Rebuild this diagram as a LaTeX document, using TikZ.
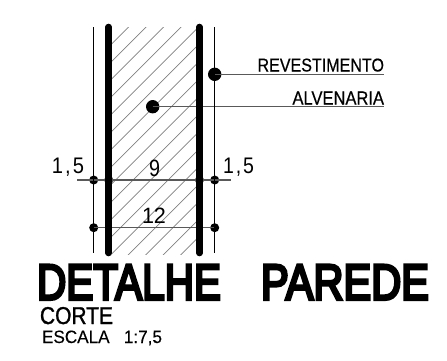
\documentclass[tikz,border=0pt]{standalone}
\usepackage{fontspec}
\setmainfont{Liberation Sans}
\newfontfamily\lightbold[FakeBold=0.5]{Liberation Sans}
\newfontfamily\thinbold[FakeBold=0.25]{Liberation Sans}
\newfontfamily\midbold[FakeBold=1.4]{Liberation Sans}
\newfontfamily\heavy[FakeBold=6]{Liberation Sans}
\newcommand{\fitted}[3]{\resizebox{#1pt}{#2pt}{#3}}
\tikzset{
  wall/.style={line width=6.6pt,line cap=round,black},
  thinwall/.style={line width=1.3pt,black},
  hatchline/.style={line width=0.75pt,black!50},
  leader/.style={line width=1.2pt,black!65},
  bigdot/.style={circle,fill=black,minimum size=13.4pt,inner sep=0pt},
  smalldot/.style={circle,fill=black,minimum size=9pt,inner sep=0pt},
  txt/.style={anchor=base west,inner sep=0pt,outer sep=0pt,text=black}
}
\begin{document}
\begin{tikzpicture}[x=1pt,y=-1pt]
\useasboundingbox (0,0) rectangle (447,360);
% hatching
\begin{scope}
\clip (112,27) rectangle (196.5,254);
\foreach \k in {0,...,27} {
  \draw[hatchline] ({112-20},{43.7+20+\k*17.5}) -- ({112+400},{43.7-400+\k*17.5});
}
\end{scope}
% named points
\coordinate (lt) at (93.7,27);   \coordinate (lb) at (93.7,253);
\coordinate (rt) at (214.7,27);  \coordinate (rb) at (214.7,253);
\coordinate (wlt) at (108.7,27); \coordinate (wlb) at (108.7,253);
\coordinate (wrt) at (199.5,27); \coordinate (wrb) at (199.5,253);
\coordinate (revEnd) at (384,74.3);
\coordinate (alvEnd) at (384,106.7);
\coordinate (dimL) at (77,180);
\coordinate (dimR) at (231,180);
% dots
\node[bigdot] (drev) at (214.7,74.3) {};
\node[bigdot] (dalv) at (152.7,106.7) {};
\node[smalldot] (a1) at (93.7,180) {};
\node[smalldot] (a2) at (108.7,180) {};
\node[smalldot] (a3) at (199.5,180) {};
\node[smalldot] (a4) at (214.7,180) {};
\node[smalldot] (b1) at (93.7,227.7) {};
\node[smalldot] (b2) at (214.7,227.7) {};
% dimension and leader lines
\draw[leader] (dimL) -- (dimR);
\draw[leader] (b1.center) -- (b2.center);
\draw[leader] (drev.center) -- (revEnd);
\draw[leader] (dalv.center) -- (alvEnd);
% walls
\draw[thinwall] (lt) -- (lb);
\draw[thinwall] (rt) -- (rb);
\draw[wall] (wlt) -- (wlb);
\draw[wall] (wrt) -- (wrb);
% labels
\node[txt] (trev) at (257.5,71.5) {\fitted{126.5}{13}{\lightbold REVESTIMENTO}};
\node[txt] (talv) at (292.5,104.5) {\fitted{91.5}{13}{\lightbold ALVENARIA}};
\node[txt] (tl) at (52,173.5) {\fitted{32}{15.5}{1\kern1pt,\kern1pt5}};
\node[txt] (tr) at (223,173.5) {\fitted{31}{15.5}{1\kern1pt,\kern1pt5}};
\node[txt] (t9) at (149,176) {\fitted{11}{16.5}{9}};
\node[txt] (t12) at (142,223.5) {\fitted{24}{15.5}{12}};
\node[txt] (ttitle) at (37,299.5) {\fitted{184}{34.5}{\heavy DETALHE}};
\node[txt] (ttitleb) at (261,299.5) {\fitted{168}{34.5}{\heavy PAREDE}};
\node[txt] (tcorte) at (40,324) {\fitted{73}{17}{\midbold CORTE}};
\node[txt] (tesc) at (42,343) {\fitted{120}{12.5}{\thinbold ESCALA\ \ \ 1:7,5}};
\end{tikzpicture}
\end{document}
